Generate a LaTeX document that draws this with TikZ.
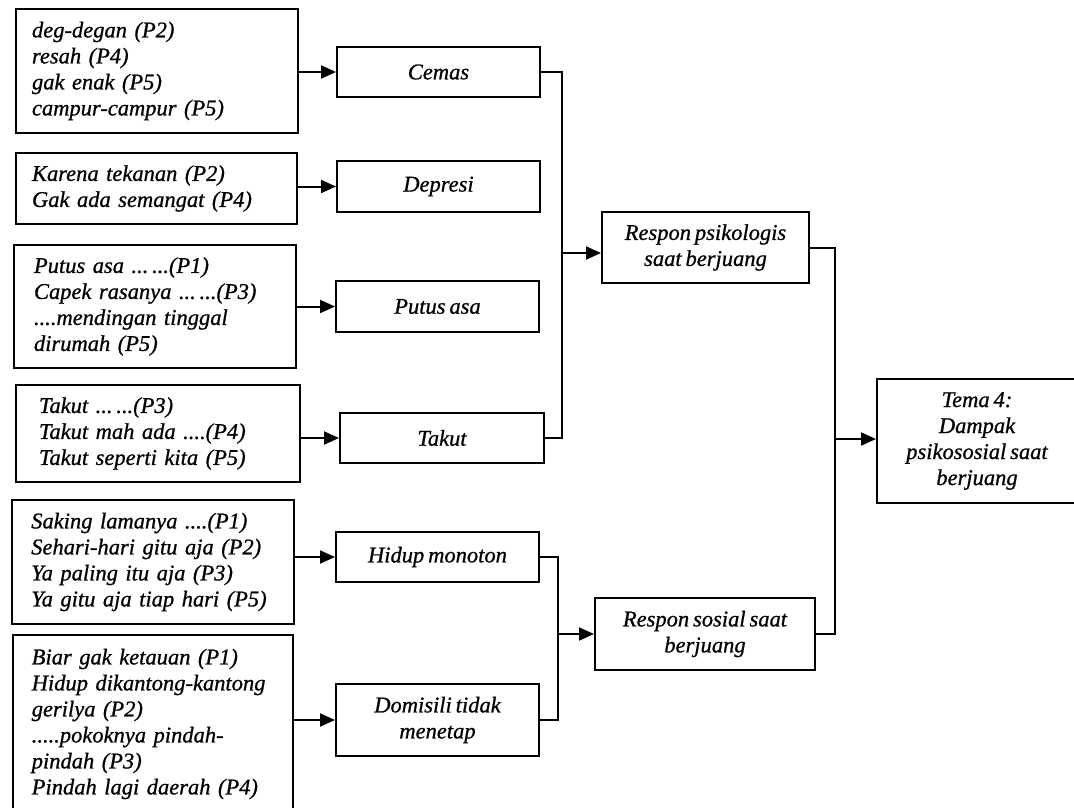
\documentclass[tikz,border=0pt]{standalone}
\usepackage{fontspec}
\setmainfont{Liberation Serif}[FakeBold=0.8, WordSpace=0.7]
\usetikzlibrary{arrows.meta}
\begin{document}
\begin{tikzpicture}[x=1pt,y=-1pt,
  every node/.style={font=\fontsize{22.5}{26}\selectfont\itshape},
  srcbox/.style={draw, line width=2pt, align=left, inner ysep=0pt},
  midbox/.style={draw, line width=2pt, align=center, inner sep=0pt},
  conn/.style={line width=2pt},
  arr/.style={line width=2pt, -{Triangle[length=15pt,width=13pt]}}]
\useasboundingbox (0,0) rectangle (1074,807);
\clip (0,0) rectangle (1074,807);

% quotation boxes (left column)
\node[srcbox, inner xsep=16pt, text width=250pt, minimum height=124pt] (s1) at (157,71)
  {deg-degan (P2)\\resah (P4)\\gak enak (P5)\\campur-campur (P5)};
\node[srcbox, inner xsep=16pt, text width=249pt, minimum height=71pt] (s2) at (156.5,188.5)
  {Karena tekanan (P2)\\Gak ada semangat (P4)};
\node[srcbox, inner xsep=20pt, text width=242pt, minimum height=123pt] (s3) at (155,306.5)
  {Putus asa ...\,...(P1)\\Capek rasanya ...\,...(P3)\\....mendingan tinggal\\dirumah (P5)};
\node[srcbox, inner xsep=23pt, text width=238pt, minimum height=97pt] (s4) at (158,433.5)
  {Takut ...\,...(P3)\\Takut mah ada ....(P4)\\Takut seperti kita (P5)};
\node[srcbox, inner xsep=19pt, text width=243.5pt, minimum height=124pt] (s5) at (153,562)
  {Saking lamanya ....(P1)\\Sehari-hari gitu aja (P2)\\Ya paling itu aja (P3)\\Ya gitu aja tiap hari (P5)};
\node[srcbox, inner xsep=19pt, text width=242.5pt, minimum height=178pt] (s6) at (153,724)
  {Biar gak ketauan (P1)\\\mbox{Hidup dikantong-kantong}\\gerilya (P2)\\.....pokoknya pindah-\\pindah (P3)\\Pindah lagi daerah (P4)};

% categories (middle column)
\node[midbox, minimum width=203pt, minimum height=50pt] (m1) at (438.5,72) {Cemas};
\node[midbox, minimum width=203pt, minimum height=51pt] (m2) at (438.5,186.5) {Depresi};
\node[midbox, minimum width=203pt, minimum height=51pt] (m3) at (437.5,306.5) {Putus asa};
\node[midbox, minimum width=204pt, minimum height=50pt] (m4) at (442,438) {Takut};
\node[midbox, minimum width=203pt, minimum height=50pt] (m5) at (437.5,557) {Hidup monoton};
\node[midbox, minimum width=203pt, minimum height=72pt] (m6) at (437.5,720) {Domisili tidak\\menetap};

% sub-themes
\node[midbox, minimum width=207pt, minimum height=71pt] (r1) at (705.5,247.5) {Respon psikologis\\saat berjuang};
\node[midbox, minimum width=220pt, minimum height=72pt] (r2) at (705,634) {Respon sosial saat\\berjuang};

% theme
\node[midbox, minimum width=200pt, minimum height=124pt] (t) at (977,441)
  {Tema 4:\\Dampak\\psikososial saat\\berjuang};

% quotations to categories
\draw[arr] (s1.east |- m1.west) -- (m1.west);
\draw[arr] (s2.east |- m2.west) -- (m2.west);
\draw[arr] (s3.east |- m3.west) -- (m3.west);
\draw[arr] (s4.east |- m4.west) -- (m4.west);
\draw[arr] (s5.east |- m5.west) -- (m5.west);
\draw[arr] (s6.east |- m6.west) -- (m6.west);

% categories to sub-themes
\coordinate (j1) at (562,253);
\draw[conn] (m1.east) -| (j1) |- (m4.east);
\draw[arr] (j1) -- (j1 -| r1.west);

\coordinate (j2) at (558,634);
\draw[conn] (m5.east) -| (j2) |- (m6.east);
\draw[arr] (j2) -- (j2 -| r2.west);

% sub-themes to theme
\coordinate (j3) at (835,439);
\draw[conn] (r1.east) -| (j3) |- (r2.east);
\draw[arr] (j3) -- (j3 -| t.west);
\end{tikzpicture}
\end{document}
